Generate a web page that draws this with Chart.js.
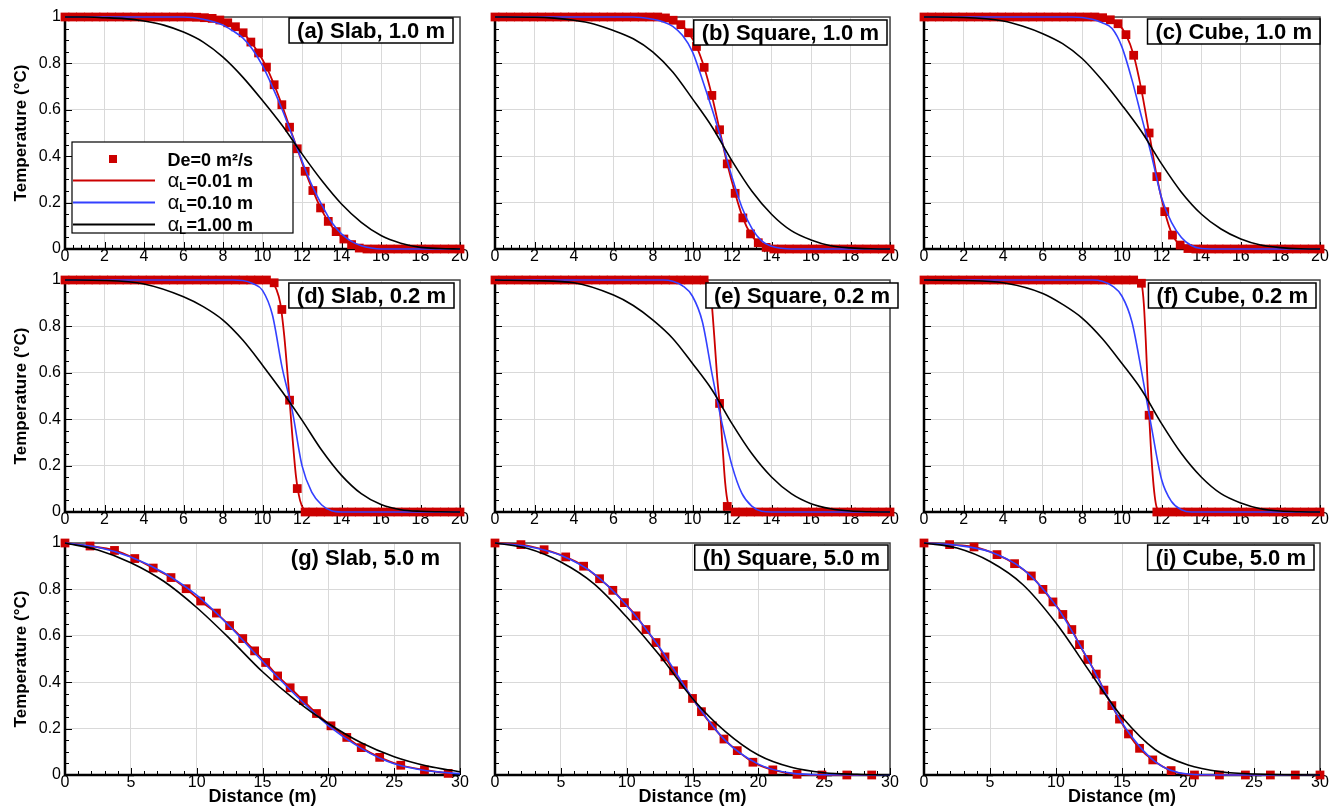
<!DOCTYPE html>
<html>
<head>
<meta charset="utf-8">
<script src="https://cdn.jsdelivr.net/npm/chart.js@4.4.1/dist/chart.umd.min.js"></script>
<style>
  html, body { margin: 0; padding: 0; background: #fff; }
  body { width: 1338px; height: 806px; position: relative; overflow: hidden; }
  canvas { position: absolute; }
</style>
</head>
<body>
<script>
var FONT = '"Liberation Sans", Arial, Helvetica, sans-serif';
var RED = '#cc0000', BLUE = '#3340ff', BLACK = '#000000';

// distance of the De=0 nodes (m), panels a-f
var GRID_X = [0, 0.39, 0.78, 1.18, 1.57, 1.96, 2.35, 2.75, 3.14, 3.53,
  3.92, 4.31, 4.71, 5.1, 5.49, 5.88, 6.27, 6.67, 7.06, 7.45,
  7.84, 8.24, 8.63, 9.02, 9.41, 9.8, 10.2, 10.59, 10.98, 11.37,
  11.76, 12.16, 12.55, 12.94, 13.33, 13.73, 14.12, 14.51, 14.9, 15.29,
  15.69, 16.08, 16.47, 16.86, 17.25, 17.65, 18.04, 18.43, 18.82, 19.22,
  19.61, 20];

// ---- (a) Slab, 1.0 m
var SLAB1_DE0 = [1, 1, 1, 1, 1, 1, 1, 1, 1, 1,
  1, 1, 1, 1, 1, 1, 1, 0.999, 0.997, 0.994,
  0.987, 0.975, 0.958, 0.932, 0.892, 0.845, 0.784, 0.708, 0.622, 0.525,
  0.432, 0.335, 0.252, 0.177, 0.119, 0.075, 0.043, 0.019, 0.004, 0,
  0, 0, 0, 0, 0, 0, 0, 0, 0, 0,
  0, 0];
var SLAB1_A010_X = [0, 6, 7, 8, 8.5, 9, 9.5, 10, 10.5, 11, 11.5, 12, 12.5, 13, 13.5, 14, 14.5, 15, 15.5, 16, 20];
var SLAB1_A010_Y = [1, 1, 0.99, 0.965, 0.94, 0.91, 0.86, 0.79, 0.7, 0.6, 0.49, 0.38, 0.275, 0.19, 0.115, 0.065, 0.033, 0.014, 0.004, 0, 0];
var SLAB1_A100_X = [0, 1, 2, 3, 4, 5, 6, 7, 8, 9, 10, 11, 12, 13, 14, 15, 16, 17, 18, 19, 20];
var SLAB1_A100_Y = [1, 1, 0.997, 0.993, 0.983, 0.965, 0.935, 0.892, 0.827, 0.741, 0.64, 0.532, 0.41, 0.295, 0.194, 0.115, 0.058, 0.025, 0.007, 0.002, 0];

// ---- (b) Square, 1.0 m
var SQ1_DE0 = [1, 1, 1, 1, 1, 1, 1, 1, 1, 1,
  1, 1, 1, 1, 1, 1, 1, 1, 1, 1,
  1, 1, 0.996, 0.986, 0.967, 0.932, 0.873, 0.783, 0.662, 0.514,
  0.367, 0.24, 0.134, 0.065, 0.027, 0.007, 0, 0, 0, 0,
  0, 0, 0, 0, 0, 0, 0, 0, 0, 0,
  0, 0];
var SQ1_A010_X = [0, 7, 8, 8.5, 9, 9.5, 10, 10.5, 11, 11.5, 12, 12.5, 13, 13.5, 14, 14.5, 15, 20];
var SQ1_A010_Y = [1, 1, 0.99, 0.98, 0.96, 0.92, 0.85, 0.73, 0.6, 0.46, 0.31, 0.18, 0.09, 0.035, 0.012, 0.003, 0, 0];
var SQ1_A100_X = [0, 2, 3, 4, 5, 6, 7, 8, 9, 10, 11, 12, 13, 14, 15, 16, 17, 18, 19, 20];
var SQ1_A100_Y = [1, 0.999, 0.995, 0.986, 0.97, 0.942, 0.906, 0.849, 0.763, 0.647, 0.525, 0.38, 0.25, 0.15, 0.079, 0.039, 0.014, 0.005, 0.001, 0];

// ---- (c) Cube, 1.0 m
var CUBE1_DE0 = [1, 1, 1, 1, 1, 1, 1, 1, 1, 1,
  1, 1, 1, 1, 1, 1, 1, 1, 1, 1,
  1, 1, 1, 0.997, 0.988, 0.971, 0.924, 0.835, 0.686, 0.5,
  0.312, 0.161, 0.06, 0.017, 0.002, 0, 0, 0, 0, 0,
  0, 0, 0, 0, 0, 0, 0, 0, 0, 0,
  0, 0];
var CUBE1_A010_X = [0, 7.5, 8.5, 9, 9.5, 10, 10.5, 11, 11.5, 12, 12.5, 13, 13.5, 14, 14.5, 20];
var CUBE1_A010_Y = [1, 1, 0.99, 0.975, 0.95, 0.87, 0.73, 0.565, 0.4, 0.22, 0.115, 0.05, 0.015, 0.002, 0, 0];
var CUBE1_A100_X = [0, 2, 4, 5, 6, 7, 8, 9, 10, 11, 12, 13, 14, 15, 16, 17, 18, 19, 20];
var CUBE1_A100_Y = [1, 0.998, 0.983, 0.96, 0.928, 0.885, 0.82, 0.727, 0.62, 0.504, 0.367, 0.245, 0.151, 0.086, 0.043, 0.017, 0.006, 0.001, 0];

// ---- (d) Slab, 0.2 m
var SLAB02_DE0 = [1, 1, 1, 1, 1, 1, 1, 1, 1, 1,
  1, 1, 1, 1, 1, 1, 1, 1, 1, 1,
  1, 1, 1, 1, 1, 1, 1, 0.988, 0.873, 0.482,
  0.101, 0, 0, 0, 0, 0, 0, 0, 0, 0,
  0, 0, 0, 0, 0, 0, 0, 0, 0, 0,
  0, 0];
var SLAB02_A001_X = [0, 10.2, 10.5, 10.7, 10.9, 11.1, 11.3, 11.4, 11.5, 11.7, 11.9, 12.1, 12.3, 20];
var SLAB02_A001_Y = [1, 1, 0.99, 0.96, 0.9, 0.76, 0.56, 0.45, 0.34, 0.15, 0.05, 0.01, 0, 0];
var SLAB02_A010_X = [0, 8.5, 9, 9.5, 10, 10.5, 11, 11.5, 12, 12.5, 13, 13.5, 14, 20];
var SLAB02_A010_Y = [1, 1, 0.998, 0.985, 0.955, 0.85, 0.62, 0.44, 0.2, 0.085, 0.03, 0.005, 0, 0];
var SLAB02_A100_X = [0, 2, 4, 6, 7, 8, 9, 10, 11, 12, 13, 14, 15, 16, 17, 18, 19, 20];
var SLAB02_A100_Y = [1, 0.998, 0.983, 0.928, 0.885, 0.827, 0.741, 0.633, 0.518, 0.396, 0.266, 0.158, 0.079, 0.032, 0.01, 0.003, 0.001, 0];

// ---- (e) Square, 0.2 m
var SQ02_DE0 = [1, 1, 1, 1, 1, 1, 1, 1, 1, 1,
  1, 1, 1, 1, 1, 1, 1, 1, 1, 1,
  1, 1, 1, 1, 1, 1, 1, 1, 0.9, 0.468,
  0.024, 0, 0, 0, 0, 0, 0, 0, 0, 0,
  0, 0, 0, 0, 0, 0, 0, 0, 0, 0,
  0, 0];
var SQ02_A001_X = [0, 10.6, 10.8, 10.95, 11.1, 11.25, 11.37, 11.5, 11.65, 11.8, 12.0, 12.2, 20];
var SQ02_A001_Y = [1, 1, 0.985, 0.92, 0.76, 0.58, 0.468, 0.31, 0.13, 0.035, 0.006, 0, 0];
var SQ02_A010_X = [0, 8.5, 9, 9.5, 10, 10.5, 11, 11.5, 12, 12.5, 13, 13.5, 14, 20];
var SQ02_A010_Y = [1, 1, 0.995, 0.975, 0.93, 0.82, 0.59, 0.38, 0.2, 0.08, 0.025, 0.003, 0, 0];
var SQ02_A100_X = [0, 2, 4, 6, 7, 8, 9, 10, 11, 12, 13, 14, 15, 16, 17, 18, 19, 20];
var SQ02_A100_Y = [1, 0.997, 0.988, 0.935, 0.89, 0.827, 0.748, 0.64, 0.525, 0.381, 0.252, 0.151, 0.079, 0.036, 0.014, 0.004, 0.001, 0];

// ---- (f) Cube, 0.2 m
var CUBE02_DE0 = [1, 1, 1, 1, 1, 1, 1, 1, 1, 1,
  1, 1, 1, 1, 1, 1, 1, 1, 1, 1,
  1, 1, 1, 1, 1, 1, 1, 1, 0.986, 0.417,
  0, 0, 0, 0, 0, 0, 0, 0, 0, 0,
  0, 0, 0, 0, 0, 0, 0, 0, 0, 0,
  0, 0];
var CUBE02_A001_X = [0, 10.7, 10.9, 11.0, 11.1, 11.2, 11.3, 11.37, 11.45, 11.55, 11.65, 11.75, 11.9, 12.1, 20];
var CUBE02_A001_Y = [1, 1, 0.997, 0.98, 0.9, 0.74, 0.54, 0.42, 0.29, 0.16, 0.07, 0.02, 0.003, 0, 0];
var CUBE02_A010_X = [0, 8.5, 9, 9.5, 10, 10.5, 11, 11.5, 12, 12.5, 13, 13.5, 20];
var CUBE02_A010_Y = [1, 1, 0.995, 0.975, 0.93, 0.82, 0.6, 0.36, 0.14, 0.045, 0.01, 0, 0];
var CUBE02_A100_X = [0, 2, 4, 6, 7, 8, 9, 10, 11, 12, 13, 14, 15, 16, 17, 18, 19, 20];
var CUBE02_A100_Y = [1, 0.998, 0.988, 0.942, 0.895, 0.835, 0.748, 0.64, 0.525, 0.381, 0.252, 0.151, 0.079, 0.039, 0.014, 0.004, 0.001, 0];

// ---- (g) Slab, 5.0 m
var SLAB5_DE0_X = [0, 1.9, 3.76, 5.3, 6.7, 8.05, 9.2, 10.3, 11.5, 12.5, 13.5, 14.4, 15.24, 16.15, 17.1, 18.1, 19.1, 20.2, 21.4, 22.5, 23.9, 25.5, 27.3, 29.1];
var SLAB5_DE0_Y = [1, 0.987, 0.968, 0.933, 0.892, 0.851, 0.803, 0.75, 0.698, 0.644, 0.588, 0.535, 0.485, 0.427, 0.376, 0.321, 0.265, 0.212, 0.162, 0.118, 0.076, 0.042, 0.022, 0.007];
var SLAB5_A010_X = [0, 2.5, 5, 7.5, 10, 12.5, 15, 17.5, 20, 22.5, 25, 27.5, 30];
var SLAB5_A010_Y = [1, 0.982, 0.94, 0.872, 0.775, 0.641, 0.49, 0.345, 0.213, 0.115, 0.048, 0.018, 0.006];
var SLAB5_A100_X = [0, 2.5, 5, 7.5, 10, 12.5, 15, 17.5, 20, 22.5, 25, 27.5, 30];
var SLAB5_A100_Y = [1, 0.97, 0.915, 0.835, 0.722, 0.588, 0.445, 0.323, 0.222, 0.139, 0.079, 0.039, 0.014];

// ---- (h) Square, 5.0 m
var SQ5_DE0_X = [0, 1.97, 3.73, 5.37, 6.73, 7.94, 8.95, 9.83, 10.71, 11.47, 12.23, 12.91, 13.56, 14.29, 15.0, 15.68, 16.51, 17.39, 18.4, 19.59, 21.1, 22.94, 24.83, 26.72, 28.61];
var SQ5_DE0_Y = [1, 0.993, 0.971, 0.94, 0.9, 0.846, 0.796, 0.743, 0.686, 0.627, 0.571, 0.509, 0.449, 0.39, 0.33, 0.273, 0.212, 0.155, 0.105, 0.055, 0.022, 0.003, 0, 0, 0];
var SQ5_A010_X = [0, 2.5, 5, 7.5, 10, 12.5, 15, 17.5, 20, 22.5, 25, 30];
var SQ5_A010_Y = [1, 0.985, 0.947, 0.868, 0.731, 0.55, 0.33, 0.148, 0.047, 0.008, 0.001, 0];
var SQ5_A100_X = [0, 2.5, 5, 7.5, 10, 12.5, 15, 17.5, 20, 22.5, 25, 27.5, 30];
var SQ5_A100_Y = [1, 0.976, 0.918, 0.825, 0.681, 0.516, 0.33, 0.187, 0.086, 0.033, 0.01, 0.003, 0];

// ---- (i) Cube, 5.0 m
var CUBE5_DE0_X = [0, 1.94, 3.79, 5.53, 6.86, 8.13, 9.01, 9.77, 10.52, 11.2, 11.78, 12.41, 13.05, 13.63, 14.23, 14.81, 15.49, 16.33, 17.33, 18.72, 20.49, 22.38, 24.35, 26.24, 28.13, 30];
var CUBE5_DE0_Y = [1, 0.993, 0.983, 0.95, 0.911, 0.858, 0.8, 0.746, 0.692, 0.627, 0.562, 0.498, 0.435, 0.366, 0.299, 0.241, 0.177, 0.115, 0.065, 0.019, 0, 0, 0, 0, 0, 0];
var CUBE5_A010_X = [0, 2.5, 5, 7.5, 10, 12.5, 15, 17.5, 20, 22.5, 25, 30];
var CUBE5_A010_Y = [1, 0.99, 0.962, 0.887, 0.73, 0.49, 0.225, 0.058, 0.004, 0, 0, 0];
var CUBE5_A100_X = [0, 2.5, 5, 7.5, 10, 12.5, 13.7, 15, 17.5, 20, 22.5, 25, 30];
var CUBE5_A100_Y = [1, 0.978, 0.92, 0.82, 0.655, 0.45, 0.35, 0.25, 0.11, 0.043, 0.014, 0.004, 0];

var LEGEND_TEXT = ['De=0 m\u00b2/s', '=0.01 m', '=0.10 m', '=1.00 m'];

// red line = De=0 data where the two overlap in the picture
var PANELS = [
  { label: '(a) Slab, 1.0 m', box: true, dx: -7, dy: 1, legend: true,
    mk: [GRID_X, SLAB1_DE0], red: [GRID_X, SLAB1_DE0], blue: [SLAB1_A010_X, SLAB1_A010_Y], black: [SLAB1_A100_X, SLAB1_A100_Y] },
  { label: '(b) Square, 1.0 m', box: true, dx: -3, dy: 3,
    mk: [GRID_X, SQ1_DE0], red: [GRID_X, SQ1_DE0], blue: [SQ1_A010_X, SQ1_A010_Y], black: [SQ1_A100_X, SQ1_A100_Y] },
  { label: '(c) Cube, 1.0 m', box: true, dx: 0, dy: 2,
    mk: [GRID_X, CUBE1_DE0], red: [GRID_X, CUBE1_DE0], blue: [CUBE1_A010_X, CUBE1_A010_Y], black: [CUBE1_A100_X, CUBE1_A100_Y] },
  { label: '(d) Slab, 0.2 m', box: true, dx: -6, dy: 3,
    mk: [GRID_X, SLAB02_DE0], red: [SLAB02_A001_X, SLAB02_A001_Y], blue: [SLAB02_A010_X, SLAB02_A010_Y], black: [SLAB02_A100_X, SLAB02_A100_Y] },
  { label: '(e) Square, 0.2 m', box: true, dx: 8, dy: 3,
    mk: [GRID_X, SQ02_DE0], red: [SQ02_A001_X, SQ02_A001_Y], blue: [SQ02_A010_X, SQ02_A010_Y], black: [SQ02_A100_X, SQ02_A100_Y] },
  { label: '(f) Cube, 0.2 m', box: true, dx: -4, dy: 3,
    mk: [GRID_X, CUBE02_DE0], red: [CUBE02_A001_X, CUBE02_A001_Y], blue: [CUBE02_A010_X, CUBE02_A010_Y], black: [CUBE02_A100_X, CUBE02_A100_Y] },
  { label: '(g) Slab, 5.0 m', box: false, dx: -12, dy: 2,
    mk: [SLAB5_DE0_X, SLAB5_DE0_Y], red: [SLAB5_DE0_X, SLAB5_DE0_Y], blue: [SLAB5_A010_X, SLAB5_A010_Y], black: [SLAB5_A100_X, SLAB5_A100_Y] },
  { label: '(h) Square, 5.0 m', box: true, dx: -2, dy: 2,
    mk: [SQ5_DE0_X, SQ5_DE0_Y], red: [SQ5_DE0_X, SQ5_DE0_Y], blue: [SQ5_A010_X, SQ5_A010_Y], black: [SQ5_A100_X, SQ5_A100_Y] },
  { label: '(i) Cube, 5.0 m', box: true, dx: -6, dy: 2,
    mk: [CUBE5_DE0_X, CUBE5_DE0_Y], red: [CUBE5_DE0_X, CUBE5_DE0_Y], blue: [CUBE5_A010_X, CUBE5_A010_Y], black: [CUBE5_A100_X, CUBE5_A100_Y] }
];

// layout of the 3x3 grid (plot areas)
var COL_LEFT = [65, 495, 924];
var COL_W = [395, 395, 396];
var ROW_TOP = [17, 280, 543];
var PLOT_H = 232;
var PAD_L = 62, PAD_T = 12, PAD_R = 14, PAD_B = 31;

function pts(xs, ys) {
  return xs.map(function (x, i) { return { x: x, y: ys[i] }; });
}

function lineSet(d, color, width) {
  return {
    data: pts(d[0], d[1]), showLine: true, borderColor: color, borderWidth: width,
    pointRadius: 0, fill: false, cubicInterpolationMode: 'monotone', clip: false
  };
}

function drawFrame(chart, p) {
  var ctx = chart.ctx, a = chart.chartArea;
  var xs = chart.scales.x, ys = chart.scales.y;
  ctx.save();
  ctx.strokeStyle = '#444';
  ctx.lineWidth = 1.5;
  ctx.beginPath();
  ctx.moveTo(a.left, a.top); ctx.lineTo(a.right, a.top); ctx.lineTo(a.right, a.bottom);
  ctx.stroke();

  // minor / major ticks pointing inward
  ctx.strokeStyle = '#000';
  ctx.lineWidth = 1;
  ctx.beginPath();
  var n = Math.round(p.xMax / p.xMinor), every = Math.round(p.xStep / p.xMinor), i, px, len;
  for (i = 0; i <= n; i++) {
    px = Math.round(xs.getPixelForValue(i * p.xMinor)) + 0.5;
    len = (i % every === 0) ? 7 : 4;
    ctx.moveTo(px, a.bottom); ctx.lineTo(px, a.bottom - len);
  }
  for (i = 0; i <= 20; i++) {
    px = Math.round(ys.getPixelForValue(i * 0.05)) + 0.5;
    len = (i % 4 === 0) ? 7 : 4;
    ctx.moveTo(a.left, px); ctx.lineTo(a.left + len, px);
  }
  ctx.stroke();

  ctx.strokeStyle = '#000';
  ctx.lineWidth = 2.5;
  ctx.beginPath();
  ctx.moveTo(a.left, a.top); ctx.lineTo(a.left, a.bottom); ctx.lineTo(a.right, a.bottom);
  ctx.stroke();
  ctx.restore();
}

function drawLegend(chart) {
  var ctx = chart.ctx, a = chart.chartArea;
  var x0 = a.left + 7, y0 = a.top + 125;
  ctx.save();
  ctx.fillStyle = '#fff';
  ctx.fillRect(x0, y0, 221, 91);
  ctx.strokeStyle = '#000';
  ctx.lineWidth = 1.2;
  ctx.strokeRect(x0, y0, 221, 91);

  var rows = [a.top + 142, a.top + 163.5, a.top + 185.5, a.top + 207.5];
  var colors = [RED, BLUE, BLACK];
  var tx = a.left + 188;
  ctx.fillStyle = RED;
  ctx.fillRect(a.left + 44, rows[0] - 4, 8, 8);
  ctx.fillStyle = '#000';
  ctx.textAlign = 'right';
  ctx.textBaseline = 'alphabetic';
  ctx.font = 'bold 18px ' + FONT;
  ctx.fillText(LEGEND_TEXT[0], tx, rows[0] + 6.5);

  for (var i = 1; i < 4; i++) {
    var base = rows[i] + 6.5;
    ctx.strokeStyle = colors[i - 1];
    ctx.lineWidth = 1.8;
    ctx.beginPath();
    ctx.moveTo(a.left + 8, rows[i]); ctx.lineTo(a.left + 90, rows[i]);
    ctx.stroke();
    ctx.fillStyle = '#000';
    ctx.font = 'bold 18px ' + FONT;
    ctx.fillText(LEGEND_TEXT[i], tx, base);
    var xL = tx - ctx.measureText(LEGEND_TEXT[i]).width - 0.5;
    ctx.font = 'bold 11px ' + FONT;
    ctx.fillText('L', xL, base + 2.5);
    var xA = xL - ctx.measureText('L').width;
    ctx.font = '20px ' + FONT;
    ctx.fillText('\u03b1', xA, base);
  }
  ctx.restore();
}

function drawLabel(chart, p) {
  var ctx = chart.ctx, a = chart.chartArea;
  var right = a.right + p.dx, top = a.top + p.dy, h = 25, pad = 8;
  ctx.save();
  ctx.font = 'bold 22px ' + FONT;
  var tw = ctx.measureText(p.label).width;
  if (p.box) {
    ctx.fillStyle = '#fff';
    ctx.fillRect(right - tw - 2 * pad, top, tw + 2 * pad, h);
    ctx.strokeStyle = '#000';
    ctx.lineWidth = 1.5;
    ctx.strokeRect(right - tw - 2 * pad, top, tw + 2 * pad, h);
  }
  ctx.fillStyle = '#000';
  ctx.textAlign = 'right';
  ctx.textBaseline = 'middle';
  ctx.fillText(p.label, right - pad, top + h / 2 + 1);
  ctx.restore();
}

function makePanel(k) {
  var p = PANELS[k];
  var r = Math.floor(k / 3), c = k % 3;
  var wide = (r === 2);
  p.xMax = wide ? 30 : 20;
  p.xStep = wide ? 5 : 2;
  p.xMinor = wide ? 1 : 0.4;

  var cv = document.createElement('canvas');
  var w = COL_W[c] + PAD_L + PAD_R, h = PLOT_H + PAD_T + PAD_B;
  cv.width = w; cv.height = h;
  cv.style.left = (COL_LEFT[c] - PAD_L) + 'px';
  cv.style.top = (ROW_TOP[r] - PAD_T) + 'px';
  cv.style.width = w + 'px'; cv.style.height = h + 'px';
  document.body.appendChild(cv);

  var tickFont = { family: FONT, size: 16, lineHeight: 1 };

  new Chart(cv.getContext('2d'), {
    type: 'scatter',
    data: {
      datasets: [
        lineSet(p.black, BLACK, 1.6),
        lineSet(p.blue, BLUE, 1.6),
        lineSet(p.red, RED, 1.8),
        {
          data: pts(p.mk[0], p.mk[1]), showLine: false, pointStyle: 'rect', pointRadius: 6.2,
          backgroundColor: RED, borderWidth: 0, clip: false
        }
      ]
    },
    options: {
      animation: false,
      responsive: false,
      events: [],
      layout: { padding: { left: 0, top: PAD_T, right: PAD_R, bottom: 0 } },
      plugins: { legend: { display: false }, tooltip: { enabled: false } },
      scales: {
        x: {
          type: 'linear', min: 0, max: p.xMax,
          ticks: {
            stepSize: p.xStep, autoSkip: false, maxRotation: 0, padding: 0, color: '#000', font: tickFont,
            callback: function (v) { return String(v); }
          },
          grid: { color: '#d9d9d9', lineWidth: 1, drawTicks: false },
          border: { display: false },
          title: {
            display: wide, text: 'Distance (m)', color: '#000',
            font: { family: FONT, size: 18, weight: 'bold', lineHeight: 1 },
            padding: { top: 0, bottom: 0 }
          },
          afterFit: function (s) { s.height = PAD_B; }
        },
        y: {
          type: 'linear', min: 0, max: 1,
          ticks: {
            display: c === 0, stepSize: 0.2, padding: 4, color: '#000', font: tickFont,
            callback: function (v) { return String(Math.round(v * 10) / 10); }
          },
          grid: { color: '#d9d9d9', lineWidth: 1, drawTicks: false },
          border: { display: false },
          title: {
            display: c === 0, text: 'Temperature (\u00b0C)', color: '#000',
            font: { family: FONT, size: 17, weight: 'bold', lineHeight: 1.2 },
            padding: { top: 8, bottom: 0 }
          },
          afterFit: function (s) { s.width = PAD_L; }
        }
      }
    },
    plugins: [{
      id: 'frame',
      beforeDatasetsDraw: function (chart) {
        drawFrame(chart, p);
        if (p.legend) drawLegend(chart);
      },
      afterDraw: function (chart) { drawLabel(chart, p); }
    }]
  });
}

for (var k = 0; k < PANELS.length; k++) makePanel(k);
</script>
</body>
</html>
